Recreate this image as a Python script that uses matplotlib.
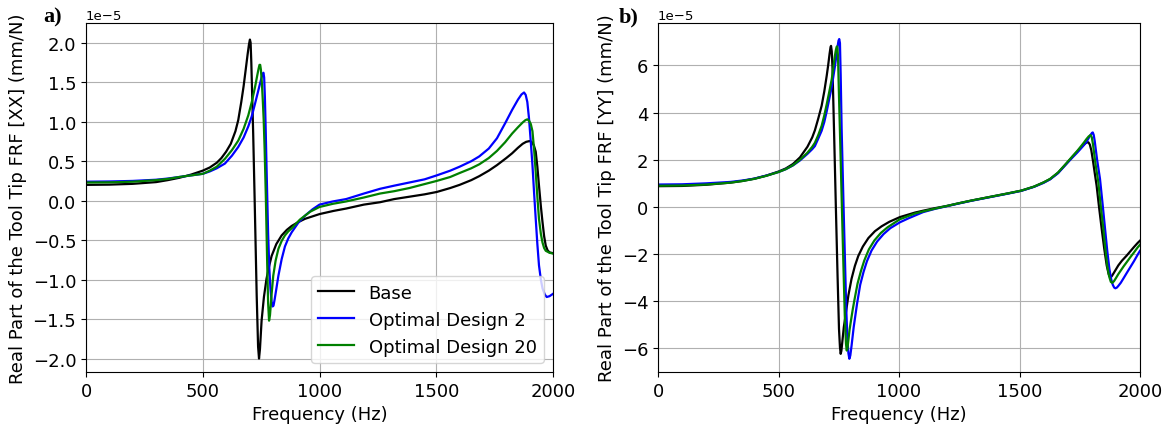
import numpy as np
import matplotlib
matplotlib.use("Agg")
import matplotlib.pyplot as plt

# ---------------- data (values in units of 1e-5 mm/N) ----------------
# Panel a) XX direction
xx_base_f = [0, 100, 200, 300, 350, 400, 450, 500, 530, 560, 580, 600, 620, 640, 652, 665, 675, 684,
             692, 698, 702, 705, 708, 712, 716, 722, 731, 737, 741, 745, 752, 762, 773, 785, 795,
             815, 838, 860, 881, 910, 938, 1000, 1060, 1114, 1190, 1259, 1320, 1385, 1450, 1502,
             1560, 1600, 1650, 1684, 1725, 1760, 1800, 1825, 1850, 1870, 1885, 1900, 1910, 1918,
             1926, 1933, 1940, 1948, 1955, 1962, 1969, 1977, 1985, 2000]
xx_base_v = [0.200, 0.203, 0.213, 0.235, 0.26, 0.29, 0.33, 0.38, 0.42, 0.48, 0.54, 0.62, 0.72, 0.88, 1.02, 1.25, 1.45, 1.66,
             1.85, 1.98, 2.04, 2.00, 1.75, 1.30, 0.85, 0.05, -1.20, -1.85, -2.00, -1.88, -1.52, -1.22, -0.99, -0.82, -0.70,
             -0.55, -0.44, -0.37, -0.32, -0.27, -0.23, -0.17, -0.13, -0.10, -0.05, -0.02, 0.02, 0.05, 0.08, 0.11,
             0.16, 0.20, 0.26, 0.31, 0.38, 0.45, 0.54, 0.60, 0.67, 0.72, 0.745, 0.755, 0.74, 0.70,
             0.62, 0.43, 0.19, -0.07, -0.27, -0.45, -0.57, -0.63, -0.655, -0.665]

xx_od2_f = [0, 100, 200, 300, 350, 400, 450, 500, 530, 560, 595, 625, 652, 675, 695, 710, 724, 735,
            745, 752, 757, 760, 763, 766, 769.5, 773, 776, 780, 785, 790, 795, 799, 803, 808, 815,
            824, 838, 852, 866, 881, 909, 938, 970, 1000, 1057, 1114, 1190, 1259, 1320, 1385, 1450,
            1502, 1560, 1600, 1650, 1684, 1725, 1760, 1795, 1825, 1850, 1865, 1876, 1883, 1890,
            1897, 1904, 1912, 1919, 1926, 1933, 1940, 1948, 1955, 1965, 1973, 1985, 2000]
xx_od2_v = [0.24, 0.243, 0.25, 0.265, 0.28, 0.30, 0.32, 0.34, 0.37, 0.41, 0.47, 0.57, 0.68, 0.80, 0.94, 1.07, 1.23, 1.36,
            1.48, 1.56, 1.61, 1.62, 1.56, 1.32, 0.91, 0.45, 0.07, -0.42, -0.85, -1.12, -1.28, -1.34, -1.33, -1.25, -1.12,
            -0.95, -0.74, -0.58, -0.48, -0.40, -0.28, -0.19, -0.11, -0.05, -0.01, 0.02, 0.09, 0.15, 0.19, 0.23, 0.27,
            0.32, 0.38, 0.43, 0.50, 0.56, 0.66, 0.79, 0.98, 1.15, 1.28, 1.345, 1.37, 1.34, 1.25,
            1.05, 0.78, 0.45, 0.10, -0.23, -0.55, -0.82, -1.00, -1.11, -1.19, -1.22, -1.21, -1.18]

xx_od20_f = [0, 100, 200, 300, 350, 400, 450, 500, 530, 560, 595, 625, 652, 675, 695, 710, 724, 733,
             739, 743, 746, 749, 753, 757, 761, 765, 770, 776, 780, 784, 788, 795, 802, 812, 824,
             838, 852, 866, 881, 916, 960, 1000, 1057, 1114, 1190, 1259, 1320, 1385, 1450, 1502,
             1560, 1600, 1650, 1684, 1725, 1760, 1795, 1825, 1850, 1870, 1882, 1890, 1898, 1905,
             1912, 1919, 1926, 1933, 1940, 1948, 1955, 1962, 1969, 1985, 2000]
xx_od20_v = [0.23, 0.232, 0.24, 0.26, 0.275, 0.30, 0.32, 0.34, 0.38, 0.43, 0.53, 0.64, 0.76, 0.91, 1.08, 1.25, 1.44, 1.58,
             1.67, 1.72, 1.72, 1.66, 1.50, 1.28, 1.02, 0.65, 0.07, -0.80, -1.30, -1.52, -1.45, -1.18, -0.95, -0.76, -0.61,
             -0.51, -0.44, -0.39, -0.35, -0.24, -0.14, -0.08, -0.04, -0.01, 0.04, 0.09, 0.12, 0.16, 0.21, 0.25,
             0.30, 0.35, 0.41, 0.46, 0.54, 0.63, 0.74, 0.85, 0.93, 0.99, 1.02, 1.03, 1.01, 0.97,
             0.88, 0.65, 0.36, 0.05, -0.23, -0.42, -0.53, -0.60, -0.635, -0.66, -0.67]

# Panel b) YY direction
yy_base_f = [0, 100, 200, 300, 350, 400, 450, 500, 530, 560, 589, 620, 640, 651, 665, 679, 690, 700,
             706, 712, 716, 718, 721, 724, 731, 738, 745, 751, 755, 758, 761, 766, 771, 776, 783,
             790, 803, 817, 831, 850, 873, 900, 928, 960, 1004, 1066, 1100, 1150, 1198, 1250, 1300,
             1350, 1400, 1450, 1507, 1560, 1600, 1627, 1660, 1696, 1720, 1740, 1755, 1768, 1778,
             1786, 1792, 1798, 1805, 1812, 1820, 1830, 1841, 1852, 1862, 1870, 1876, 1882, 1890,
             1900, 1910, 1925, 1945, 1960, 1975, 1990, 2000]
yy_base_v = [0.88, 0.89, 0.94, 1.03, 1.10, 1.20, 1.33, 1.50, 1.63, 1.82, 2.10, 2.55, 2.95, 3.25, 3.75, 4.29, 4.90, 5.56,
             6.00, 6.50, 6.78, 6.83, 6.60, 5.90, 3.00, 0.00, -2.90, -5.17, -5.95, -6.23, -6.10, -5.60, -5.10, -4.75, -4.25,
             -3.75, -3.05, -2.50, -2.08, -1.68, -1.32, -1.03, -0.82, -0.63, -0.43, -0.24, -0.16, -0.05, 0.04, 0.16, 0.27,
             0.37, 0.47, 0.57, 0.69, 0.86, 1.04, 1.18, 1.45, 1.85, 2.13, 2.35, 2.53, 2.66, 2.73,
             2.74, 2.64, 2.40, 1.95, 1.45, 0.90, 0.00, -0.93, -1.80, -2.49, -2.85, -2.97, -2.95, -2.82,
             -2.65, -2.48, -2.28, -2.06, -1.88, -1.70, -1.53, -1.43]

yy_od2_f = [0, 100, 200, 300, 350, 400, 450, 500, 530, 560, 589, 620, 640, 651, 665, 679, 690, 700,
            710, 721, 734, 740, 745, 749, 752, 755, 758, 762, 770, 776, 781, 786, 790, 794, 798,
            803, 812, 826, 839, 853, 867, 886, 909, 936, 964, 1004, 1040, 1100, 1150, 1198, 1250,
            1300, 1350, 1400, 1450, 1507, 1560, 1600, 1627, 1660, 1696, 1720, 1740, 1755, 1768,
            1778, 1787, 1795, 1801, 1804, 1808, 1812, 1817, 1822, 1834, 1845, 1855, 1864, 1873,
            1880, 1887, 1893, 1898, 1904, 1910, 1920, 1932, 1945, 1960, 1975, 1990, 2000]
yy_od2_v = [0.95, 0.96, 1.00, 1.06, 1.12, 1.20, 1.33, 1.48, 1.60, 1.76, 1.97, 2.25, 2.45, 2.58, 2.90, 3.23, 3.60, 4.05,
            4.55, 5.10, 5.95, 6.40, 6.80, 7.05, 7.12, 6.95, 5.60, 3.30, 0.00, -2.34, -4.30, -5.60, -6.20, -6.44, -6.30,
            -5.90, -5.10, -4.10, -3.30, -2.75, -2.30, -1.85, -1.47, -1.15, -0.90, -0.65, -0.48, -0.22, -0.08, 0.03, 0.15,
            0.26, 0.36, 0.46, 0.56, 0.68, 0.85, 1.02, 1.17, 1.43, 1.84, 2.10, 2.31, 2.48, 2.63,
            2.76, 2.92, 3.06, 3.14, 3.16, 3.05, 2.80, 2.40, 2.00, 1.19, 0.10, -0.93, -1.85, -2.63,
            -3.05, -3.30, -3.42, -3.45, -3.42, -3.35, -3.22, -3.02, -2.80, -2.55, -2.30, -2.03, -1.86]

yy_od20_f = [0, 100, 200, 300, 350, 400, 450, 500, 530, 560, 589, 620, 640, 651, 665, 679, 690, 700,
             710, 721, 728, 734, 738, 741, 743, 745, 747, 751, 757, 763, 769, 775, 780, 783, 786,
             790, 795, 801, 808, 815, 828, 842, 856, 875, 898, 925, 953, 1004, 1066, 1100, 1150,
             1198, 1250, 1300, 1350, 1400, 1450, 1507, 1560, 1600, 1627, 1660, 1696, 1720, 1740,
             1755, 1768, 1778, 1787, 1795, 1800, 1805, 1810, 1815, 1821, 1827, 1837, 1848, 1856,
             1864, 1872, 1879, 1885, 1892, 1900, 1910, 1920, 1932, 1945, 1960, 1975, 1990, 2000]
yy_od20_v = [0.90, 0.91, 0.95, 1.03, 1.10, 1.19, 1.32, 1.48, 1.60, 1.77, 2.00, 2.30, 2.55, 2.72, 3.05, 3.44, 3.88, 4.35,
             4.85, 5.42, 5.95, 6.41, 6.65, 6.78, 6.81, 6.70, 6.35, 4.70, 2.40, 0.00, -2.34, -4.60, -5.80, -6.09, -6.00,
             -5.65, -5.20, -4.80, -4.35, -3.95, -3.25, -2.72, -2.27, -1.80, -1.42, -1.10, -0.86, -0.52, -0.28, -0.19, -0.07,
             0.04, 0.16, 0.27, 0.37, 0.47, 0.57, 0.69, 0.86, 1.04, 1.19, 1.46, 1.87, 2.15, 2.38,
             2.57, 2.74, 2.88, 2.99, 3.05, 2.95, 2.65, 2.25, 1.85, 1.45, 1.05, 0.05, -0.93, -1.75,
             -2.49, -2.95, -3.18, -3.22, -3.15, -3.02, -2.85, -2.70, -2.52, -2.34, -2.13, -1.93, -1.72, -1.60]

labels = ["Base", "Optimal Design 2", "Optimal Design 20"]
colors = ["black", "#0000ff", "green"]
scale = 1e-5

# ---------------- figure ----------------
plt.rcParams['font.family'] = ['DejaVu Sans']
FS = 13
fig = plt.figure(figsize=(11.7, 4.31), dpi=100)
ax1 = fig.add_axes([86/1170, 1-373/431, (553-86)/1170, (373-24)/431])
ax2 = fig.add_axes([658/1170, 1-373/431, (1140-658)/1170, (373-24)/431])

series_a = [(xx_base_f, xx_base_v), (xx_od2_f, xx_od2_v), (xx_od20_f, xx_od20_v)]
series_b = [(yy_base_f, yy_base_v), (yy_od2_f, yy_od2_v), (yy_od20_f, yy_od20_v)]

for (f, v), lab, c in zip(series_a, labels, colors):
    ax1.plot(f, np.array(v) * scale, color=c, lw=1.6, label=lab)
for (f, v), lab, c in zip(series_b, labels, colors):
    ax2.plot(f, np.array(v) * scale, color=c, lw=1.6, label=lab)

ax1.set_ylim(-2.17e-5, 2.25e-5)
ax2.set_ylim(-7.0e-5, 7.8e-5)
ax1.set_yticks(np.arange(-2.0, 2.01, 0.5) * scale)
ax2.set_yticks(np.arange(-6, 6.1, 2) * scale)

for ax, comp in [(ax1, "XX"), (ax2, "YY")]:
    ax.set_xlim(0, 2000)
    ax.set_xticks([0, 500, 1000, 1500, 2000])
    ax.grid(True, color="#b0b0b0", lw=0.8)
    ax.tick_params(labelsize=FS)
    ax.set_xlabel("Frequency (Hz)", fontsize=FS)
    ax.set_ylabel(f"Real Part of the Tool Tip FRF [{comp}] (mm/N)", fontsize=FS)
    ax.yaxis.get_offset_text().set_fontsize(9.5)

ax1.legend(loc="lower right", fontsize=FS)

fig.text(43/1170, 1-22/431, "a)", fontsize=16, fontweight="bold",
         family="Liberation Serif", ha="left", va="baseline")
fig.text(619/1170, 1-22/431, "b)", fontsize=16, fontweight="bold",
         family="Liberation Serif", ha="left", va="baseline")

fig.savefig("out.png", dpi=100)
